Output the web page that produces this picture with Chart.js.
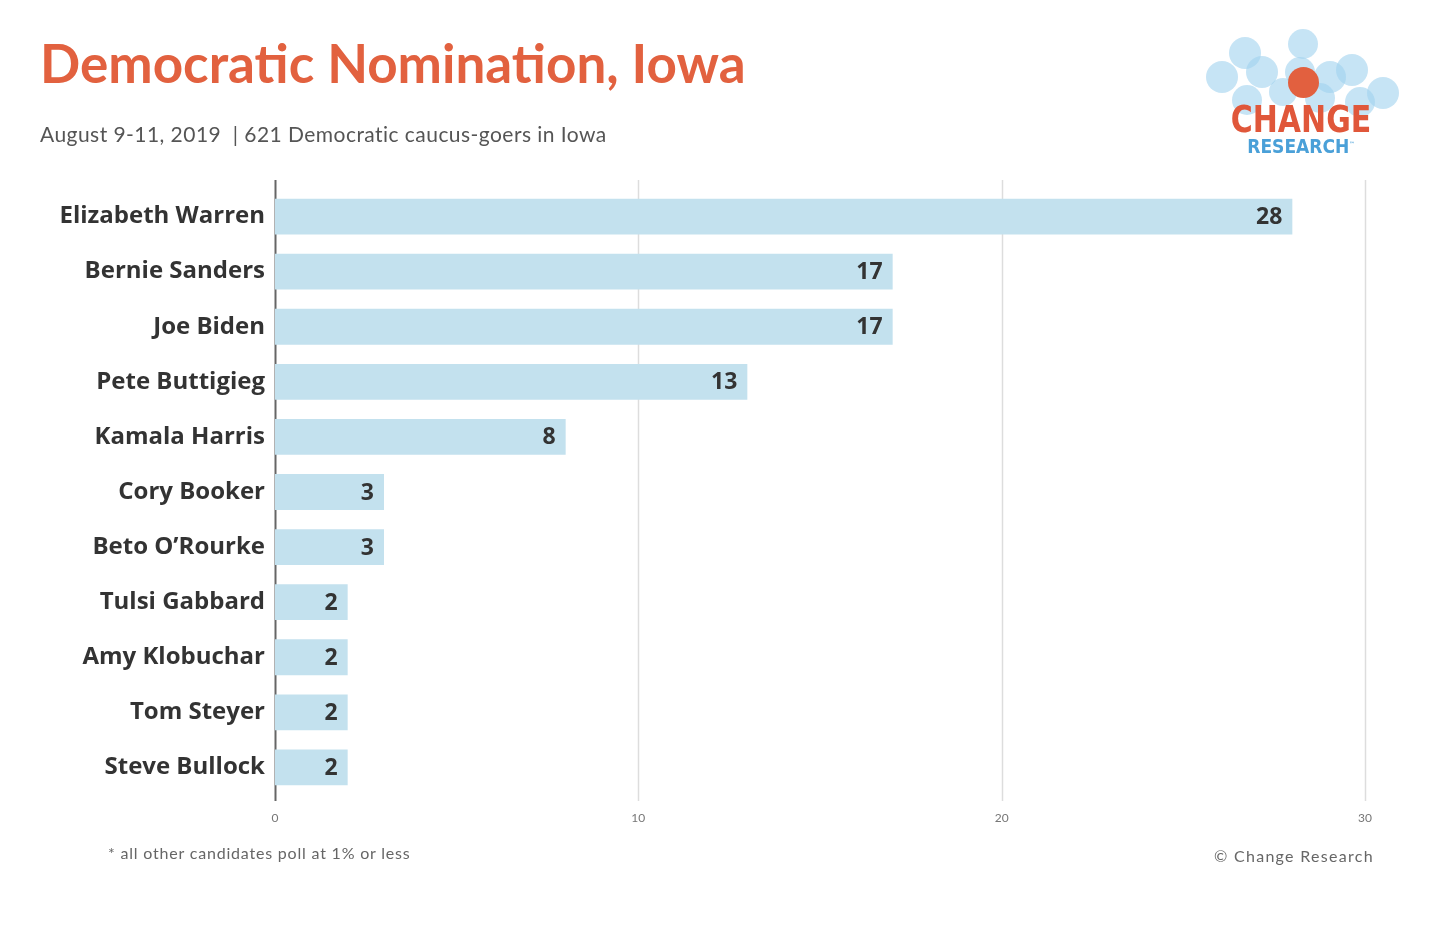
<!DOCTYPE html>
<html>
<head>
<meta charset="utf-8">
<script src="https://cdn.jsdelivr.net/npm/chart.js@4/dist/chart.umd.min.js"></script>
<style>
  html, body { margin: 0; padding: 0; background: #fff; }
  body { width: 1438px; height: 926px; position: relative; overflow: hidden; font-family: Lato, "Open Sans", sans-serif; }
  #wrap { position: absolute; left: 0; top: 0; width: 1438px; height: 926px; }
  .title { position: absolute; left: 40px; top: 31px; font-size: 53px; font-weight: 700; color: #e2613f; white-space: nowrap; }
  .sub { position: absolute; left: 40px; top: 121px; font-size: 21px; color: #555; letter-spacing: 0.45px; white-space: nowrap; }
  .foot { position: absolute; top: 843px; font-size: 16px; color: #666; letter-spacing: 0.8px; white-space: nowrap; }
  .logo { position: absolute; left: 1195px; top: 20px; width: 220px; height: 150px; }
  .dot { position: absolute; border-radius: 50%; background: rgba(160, 210, 238, 0.6); }
  .logo .change { position: absolute; left: 0; width: 212px; top: 78px; text-align: center; font-family: "DejaVu Sans Condensed", sans-serif; font-weight: 700; font-size: 37px; color: #e0573a; transform: scaleX(0.9); }
  .logo .research { position: absolute; left: 0; width: 212px; top: 115px; text-align: center; font-family: "DejaVu Sans Condensed", sans-serif; font-weight: 700; font-size: 19px; color: #4aa0d8; }
</style>
</head>
<body>
<div id="wrap"><canvas id="chart" width="1438" height="926"></canvas></div>
<div class="title">Democratic Nomination, Iowa</div>
<div class="sub">August 9-11, 2019 &nbsp;| 621 Democratic caucus-goers in Iowa</div>
<div class="foot" style="left:108px">* all other candidates poll at 1% or less</div>
<div class="foot" style="right:64px; top:846px; letter-spacing:1.3px">© Change Research</div>
<div class="logo" id="logo">
  <div class="change">CHANGE</div>
  <div class="research">RESEARCH<sup style="font-size:6px">™</sup></div>
</div>
<script>
  // data
  const candidates = ["Elizabeth Warren", "Bernie Sanders", "Joe Biden", "Pete Buttigieg", "Kamala Harris",
    "Cory Booker", "Beto O\u2019Rourke", "Tulsi Gabbard", "Amy Klobuchar", "Tom Steyer", "Steve Bullock"];
  const support = [28, 17, 17, 13, 8, 3, 3, 2, 2, 2, 2];
  const xTicks = [0, 10, 20, 30];

  // logo bubbles
  const bubbles = [[50, 33, 16], [108, 24, 15], [27, 57, 16], [67, 52, 16], [105, 52, 15], [135, 57, 16],
    [157, 50, 16], [188, 73, 16], [52, 80, 15], [125, 78, 15], [165, 82, 15], [88, 72, 14]];
  const logo = document.getElementById("logo");
  bubbles.forEach(([x, y, r]) => {
    const d = document.createElement("div");
    d.className = "dot";
    Object.assign(d.style, { left: (x - r) + "px", top: (y - r) + "px", width: 2 * r + "px", height: 2 * r + "px" });
    logo.insertBefore(d, logo.firstChild);
  });
  const od = document.createElement("div");
  od.className = "dot";
  Object.assign(od.style, { left: "93px", top: "47px", width: "31px", height: "31px", background: "#e2603f" });
  logo.insertBefore(od, logo.querySelector(".change"));

  const LEFT = 275, TOP = 189, BOTTOM = 795;
  const LABEL_FONT = "'Open Sans', Lato, sans-serif";

  // grid lines that run a bit past the plot area, plus the dark zero axis
  const gridPlugin = {
    id: "grid",
    beforeDatasetsDraw(chart) {
      const { ctx, scales: { x } } = chart;
      ctx.save();
      xTicks.forEach(v => {
        const px = Math.round(x.getPixelForValue(v)) + 0.5;
        ctx.beginPath();
        ctx.strokeStyle = v === 0 ? "#666" : "#ddd";
        ctx.lineWidth = v === 0 ? 2 : 1.5;
        ctx.moveTo(px, 180);
        ctx.lineTo(px, 801);
        ctx.stroke();
      });
      ctx.restore();
    }
  };

  const valuePlugin = {
    id: "values",
    afterDatasetsDraw(chart) {
      const { ctx } = chart;
      const meta = chart.getDatasetMeta(0);
      ctx.save();
      ctx.font = "bold 23px " + LABEL_FONT;
      ctx.fillStyle = "#333";
      ctx.textAlign = "right";
      ctx.textBaseline = "middle";
      meta.data.forEach((bar, i) => {
        ctx.fillText(String(support[i]), bar.x - 10, bar.y + 1);
      });
      ctx.restore();
    }
  };

  new Chart(document.getElementById("chart"), {
    type: "bar",
    data: {
      labels: candidates,
      datasets: [{
        data: support,
        backgroundColor: "#c3e1ee",
        borderWidth: 0,
        barPercentage: 0.65,
        categoryPercentage: 1
      }]
    },
    options: {
      indexAxis: "y",
      responsive: false,
      animation: false,
      layout: { padding: { left: 0, right: 73, top: TOP, bottom: 926 - BOTTOM - 34 } },
      plugins: { legend: { display: false }, tooltip: { enabled: false } },
      scales: {
        x: {
          min: 0, max: 30,
          afterBuildTicks: s => { s.ticks = xTicks.map(v => ({ value: v })); },
          afterFit: s => { s.height = 34; },
          grid: { display: false, drawTicks: false },
          border: { display: false },
          ticks: { color: "#777", font: { size: 12, family: "Lato, sans-serif" }, padding: 16 }
        },
        y: {
          afterFit: s => { s.width = LEFT; },
          grid: { display: false },
          border: { display: false },
          ticks: { color: "#333", font: { size: 24, weight: "bold", family: LABEL_FONT }, padding: 2 }
        }
      }
    },
    plugins: [gridPlugin, valuePlugin]
  });
</script>
</body>
</html>
